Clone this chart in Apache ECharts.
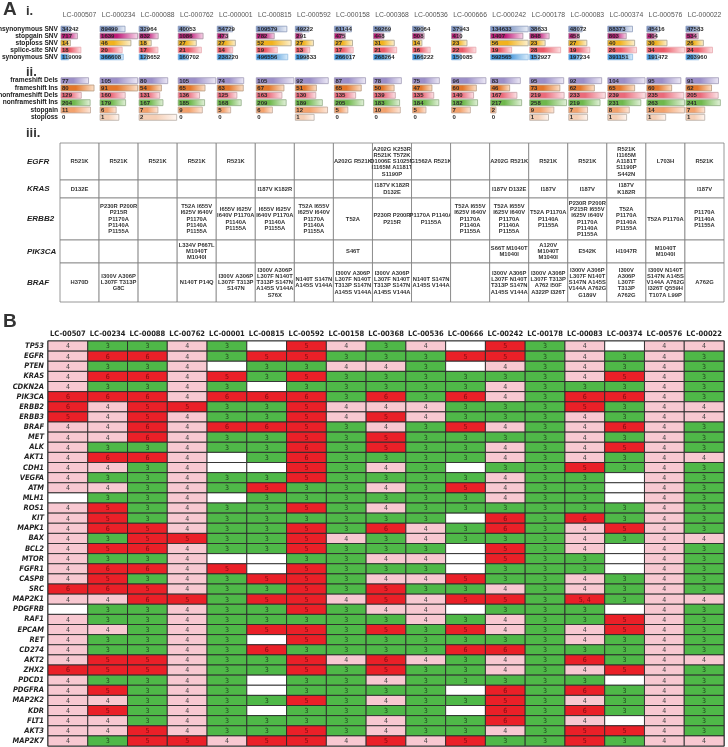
<!DOCTYPE html>
<html><head><meta charset="utf-8">
<script src="https://cdn.jsdelivr.net/npm/echarts@6/dist/echarts.min.js"></script>
<style>html,body{margin:0;padding:0;background:#fff}#c{width:728px;height:747px}</style>
</head><body><div id="c"></div><script>
// ---------- DATA ----------
const samplesA = ['LC-000507','LC-000234','LC-000088','LC-000762','LC-000001','LC-000815','LC-000592','LC-000158','LC-000368','LC-000536','LC-000666','LC-000242','LC-000178','LC-000083','LC-000374','LC-000576','LC-000022'];
const samplesB = ['LC-00507','LC-00234','LC-00088','LC-00762','LC-00001','LC-00815','LC-00592','LC-00158','LC-00368','LC-00536','LC-00666','LC-00242','LC-00178','LC-00083','LC-00374','LC-00576','LC-00022'];

// Panel A i. SNV counts
const snvRows = ['nonsynonymous SNV','stopgain SNV','stoploss SNV','splice-site SNV','synonymous SNV'];
const nonsynonymousSNV = [34242,89499,32964,40053,54729,109579,49222,61144,59269,39064,37943,134633,38633,48072,88373,45416,47583];
const stopgainSNV      = [717,1639,832,1086,473,782,291,475,448,508,410,1407,848,458,803,404,534];
const stoplossSNV      = [14,46,18,27,27,52,27,27,31,14,23,56,23,27,40,30,26];
const spliceSiteSNV    = [18,20,17,21,14,19,13,17,21,16,22,19,28,19,26,34,24];
const synonymousSNV    = [119009,366608,128652,160702,238220,496556,199833,266017,268264,166222,150085,592565,152927,197234,391151,191472,203960];

// Panel A ii. indel counts
const indelRows = ['frameshift Dels','frameshift Ins','nonframeshift Dels','nonframeshift Ins','stopgain','stoploss'];
const frameshiftDels    = [77,105,80,105,74,105,92,87,78,75,96,83,95,92,104,95,91];
const frameshiftIns     = [80,91,54,65,63,67,51,65,50,47,60,46,73,62,65,60,62];
const nonframeshiftDels = [129,160,131,136,125,163,130,135,139,135,140,167,219,233,239,235,205];
const nonframeshiftIns  = [204,179,167,185,168,209,189,205,183,184,182,217,258,219,231,263,241];
const stopgainIndel     = [11,6,7,9,5,6,12,5,10,5,7,2,9,7,8,14,7];
const stoplossIndel     = [0,1,2,0,0,0,1,0,0,0,0,0,1,1,1,1,1];

// Panel A iii. mutations table
const tableGenes = ['EGFR','KRAS','ERBB2','PIK3CA','BRAF'];
const mutEGFR = ['R521K','R521K','R521K','R521K','R521K','','','A202G R521K','A202G K253R\nR521K T572K\nD1006E S1025N\nI1165M A1181T\nS1190P','G1562A R521K','','A202G R521K','R521K','R521K','R521K\nI1165M\nA1181T\nS1190P\nS442N','L703H','R521K'];
const mutKRAS = ['D132E','','','','','I187V K182R','','','I187V K182R\nD132E','','','I187V D132E','I187V','I187V','I187V\nK182R','','I187V'];
const mutERBB2 = ['','P230R P200R\nP215R\nP1170A\nP1140A\nP1155A','','T52A I655V\nI625V I640V\nP1170A\nP1140A\nP1155A','I655V I625V\nI640V P1170A\nP1140A\nP1155A','I655V I625V\nI640V P1170A\nP1140A\nP1155A','T52A I655V\nI625V I640V\nP1170A\nP1140A\nP1155A','T52A','P230R P200R\nP215R','P1170A P1140A\nP1155A','T52A I655V\nI625V I640V\nP1170A\nP1140A\nP1155A','T52A I655V\nI625V I640V\nP1170A\nP1140A\nP1155A','T52A P1170A\nP1140A\nP1155A','P230R P200R\nP215R I655V\nI625V I640V\nP1170A\nP1140A\nP1155A','T52A\nP1170A\nP1140A\nP1155A','T52A P1170A','P1170A\nP1140A\nP1155A'];
const mutPIK3CA = ['','','','L334V P667L\nM1040T\nM1040I','','','','S46T','','','','S66T M1040T\nM1040I','A120V\nM1040T\nM1040I','E542K','H1047R','M1040T\nM1040I',''];
const mutBRAF = ['H370D','I300V A306P\nL307F T313P\nG8C','','N140T P14Q','I300V A306P\nL307F T313P\nS147N','I300V A306P\nL307F N140T\nT313P S147N\nA145S V144A\nS76X','N140T S147N\nA145S V144A','I300V A306P\nL307F N140T\nT313P S147N\nA145S V144A','I300V A306P\nL307F N140T\nT313P S147N\nA145S V144A','N140T S147N\nA145S V144A','','I300V A306P\nL307F N140T\nT313P S147N\nA145S V144A','I300V A306P\nL307F T313P\nA762 I50F\nA322P I326T','I300V A306P\nL307F N140T\nS147N A145S\nV144A A762G\nG189V','I300V\nA306P\nL307F\nT313P\nA762G','I300V N140T\nS147N A145S\nV144A A762G\nI326T Q559H\nT107A L99P','A762G'];

// Panel B heatmap (null = blank cell)
const genesB = ['TP53','EGFR','PTEN','KRAS','CDKN2A','PIK3CA','ERBB2','ERBB3','BRAF','MET','ALK','AKT1','CDH1','VEGFA','ATM','MLH1','ROS1','KIT','MAPK1','BAX','BCL2','MTOR','FGFR1','CASP8','SRC','MAP2K1','PDGFRB','RAF1','EPCAM','RET','CD274','AKT2','ZHX2','PDCD1','PDGFRA','MAP2K2','KDR','FLT1','AKT3','MAP2K7'];
const _ = null;
const scoresB = [
 [4,3,3,4,3,_,5,4,3,4,_,5,3,4,_,4,4],
 [4,6,6,4,3,5,5,3,3,3,5,5,3,4,3,4,3],
 [4,3,3,4,_,3,3,4,4,3,_,4,3,4,3,4,3],
 [4,6,6,4,5,3,5,3,3,3,3,3,3,4,5,4,3],
 [4,3,3,4,3,_,3,3,3,3,3,4,3,3,3,4,3],
 [6,6,6,4,6,6,6,3,6,3,6,4,3,6,6,4,3],
 [6,4,5,5,3,3,5,4,4,4,3,3,3,5,3,4,4],
 [5,4,5,4,3,3,5,4,5,4,3,3,3,4,3,4,4],
 [4,4,6,4,6,6,5,3,4,3,5,4,3,4,6,4,3],
 [4,4,6,4,3,3,5,3,5,3,3,3,3,4,3,4,3],
 [4,3,3,4,3,3,6,3,5,3,3,4,3,4,5,4,3],
 [4,6,6,4,_,3,6,3,3,3,3,4,3,4,3,4,4],
 [4,4,3,4,_,_,5,3,4,3,_,3,3,5,3,4,3],
 [4,3,3,4,3,3,5,3,3,3,3,4,3,3,_,4,3],
 [4,4,3,4,3,5,3,3,4,3,5,4,3,3,_,4,3],
 [_,3,3,4,_,3,3,3,3,3,3,4,3,3,_,4,3],
 [4,5,3,4,3,3,5,3,4,3,3,3,3,3,3,4,3],
 [4,5,3,4,3,3,3,3,3,3,_,6,3,6,3,4,3],
 [4,6,5,4,3,3,5,3,6,4,3,6,3,4,5,4,3],
 [4,3,5,5,3,3,5,4,3,4,3,3,3,4,3,4,4],
 [4,5,6,4,3,3,5,3,3,3,_,5,3,4,_,4,3],
 [4,3,3,4,_,_,3,3,4,4,_,5,3,3,_,4,3],
 [4,6,6,4,5,_,5,3,3,3,_,3,3,3,_,4,3],
 [4,5,3,4,3,5,5,3,4,4,5,3,3,4,3,4,3],
 [6,6,5,4,3,3,5,3,5,3,3,4,3,4,3,4,3],
 [4,4,6,5,3,5,5,4,5,4,5,5,3,'5, 4',3,4,4],
 [_,3,3,4,3,3,5,3,4,4,_,3,3,3,_,4,3],
 [4,3,3,4,3,3,3,3,3,4,3,4,3,3,5,4,3],
 [4,4,3,4,3,5,5,3,5,3,5,4,3,4,5,4,3],
 [4,3,3,4,3,_,5,3,3,3,3,3,3,4,3,4,3],
 [4,3,3,4,3,6,3,3,3,3,6,6,3,3,3,4,3],
 [4,5,5,4,3,3,5,4,6,4,3,4,3,6,3,4,4],
 [6,5,5,4,3,3,5,3,5,3,3,4,3,4,5,4,3],
 [4,3,3,4,3,_,3,3,4,3,3,3,3,3,_,4,3],
 [4,5,3,4,3,_,3,3,3,3,_,6,3,6,3,4,3],
 [4,4,3,4,3,3,5,3,4,3,3,5,3,4,3,4,3],
 [4,5,3,4,3,_,3,3,3,3,_,6,3,6,3,4,3],
 [4,4,3,4,3,3,3,3,4,3,3,6,3,4,_,4,3],
 [4,4,5,4,3,3,5,3,4,3,3,4,3,5,5,4,3],
 [4,3,5,5,4,5,5,4,5,4,5,3,3,5,3,4,4]
];

// ---------- STYLES ----------
const snvColors = [
  ['#7c93c2','#eef2f9','#8b9bbb'],
  ['#bd1a78','#f8d9eb','#a68ea0'],
  ['#f1b21d','#fdf2d3','#a7a08c'],
  ['#ec5a66','#fde6e8','#e7a7ad'],
  ['#3a8fd7','#ddeefb','#8fbbe2']
];
const indelColors = [
  ['#9c8fc8','#eeebf7','#a29cb8'],
  ['#e4772a','#fbe2cc','#b79a80'],
  ['#ea6a7a','#fde5e9','#c8a0a6'],
  ['#6fb84c','#e4f2dc','#92ad86'],
  ['#f3a26d','#fde9dc','#c0a798'],
  ['#f5cfb6','#fff7f2','#b8ada6']
];
const NARROW = "'Liberation Sans Narrow','DejaVu Sans Condensed','Liberation Sans',sans-serif";
const SANS = "'Liberation Sans',Arial,sans-serif";

function barSeries(idx, rows, colors){
  const data = [];
  rows.forEach((arr, r) => arr.forEach((v, c) => data.push([c, r, v])));
  const maxes = rows.map(a => Math.max(...a));
  return {
    type:'custom', xAxisIndex:idx, yAxisIndex:idx, data, encode:{x:0, y:1}, silent:true,
    renderItem(params, api){
      const c = api.value(0), r = api.value(1), v = api.value(2);
      const p = api.coord([c, r]); const s = api.size([1, 1]);
      const x0 = p[0] - s[0]/2 + 1; const full = s[0] - 1.5;
      const len = maxes[r] ? v / maxes[r] * full : 0;
      const h = s[1] - 1.4; const y0 = p[1] - h/2;
      const col = colors[r]; const ch = [];
      if (len > 0) ch.push({type:'rect', shape:{x:x0, y:y0, width:len, height:h},
        style:{fill:new echarts.graphic.LinearGradient(0,0,1,0,[{offset:0,color:col[0]},{offset:0.45,color:col[0]},{offset:1,color:col[1]}]), stroke:col[2], lineWidth:0.8}});
      ch.push({type:'text', style:{text:String(v), x:x0 + 1, y:p[1] + 0.3, align:'left', verticalAlign:'middle',
        font:'bold 6px ' + SANS, fill:'#2a2a2a'}});
      return {type:'group', children:ch};
    }
  };
}

function tableSeries(idx, row){
  return {
    type:'custom', xAxisIndex:idx, yAxisIndex:idx, silent:true,
    data: row.map((t, c) => [c, 0]), encode:{x:0, y:1},
    renderItem(params, api){
      const c = api.value(0); const p = api.coord([c, 0]); const s = api.size([1, 1]);
      return {type:'group', children:[
        {type:'rect', shape:{x:p[0]-s[0]/2, y:p[1]-s[1]/2, width:s[0], height:s[1]}, style:{fill:'#fff', stroke:'#7f7f7f', lineWidth:0.8}},
        {type:'text', style:{text:row[c], x:p[0], y:p[1], align:'center', verticalAlign:'middle',
          font:'bold 5.8px ' + SANS, lineHeight:6.3, fill:'#333'}}
      ]};
    }
  };
}

const heatColors = {3:'#4fb848', 4:'#f8c8d1', 5:'#ea2028', 6:'#ea2028'};
const heatText = {3:'#1d3d1b', 4:'#444', 5:'#7c0c10', 6:'#7c0c10'};
function heatSeries(idx){
  const data = [];
  scoresB.forEach((row, r) => row.forEach((v, c) => data.push([c, r])));
  const labels = []; scoresB.forEach(row => row.forEach(v => labels.push(v)));
  return {
    type:'custom', xAxisIndex:idx, yAxisIndex:idx, silent:true, data, encode:{x:0, y:1},
    renderItem(params, api){
      const c = api.value(0), r = api.value(1); const v = labels[params.dataIndex];
      const key = v == null ? null : parseInt(String(v), 10);
      const p = api.coord([c, r]); const s = api.size([1, 1]);
      const ch = [{type:'rect', shape:{x:p[0]-s[0]/2, y:p[1]-s[1]/2, width:s[0], height:s[1]},
        style:{fill: key == null ? '#fff' : heatColors[key], stroke:'#2b2b2b', lineWidth:0.9}}];
      if (key != null) ch.push({type:'text', style:{text:String(v), x:p[0], y:p[1]+0.5, align:'center', verticalAlign:'middle',
        font:'7px ' + NARROW, fill:heatText[key]}});
      return {type:'group', children:ch};
    }
  };
}

// ---------- LAYOUT ----------
const grids = [], xAxes = [], yAxes = [], series = [];
function hidden(){ return {show:false}; }
// 0: panel i
grids.push({left:60, right:4, top:25.5, height:35, outerBoundsMode:'none'});
xAxes.push({type:'category', gridIndex:0, data:samplesA, position:'top', axisLine:hidden(), axisTick:hidden(), splitLine:hidden(),
  axisLabel:{interval:0, fontSize:6.8, color:'#555', margin:7, fontFamily:SANS}});
yAxes.push({type:'category', gridIndex:0, data:snvRows, inverse:true, axisLine:hidden(), axisTick:hidden(),
  axisLabel:{interval:0, fontSize:6.6, fontWeight:'bold', color:'#222', margin:2, fontFamily:SANS}});
series.push(barSeries(0, [nonsynonymousSNV, stopgainSNV, stoplossSNV, spliceSiteSNV, synonymousSNV], snvColors));
// 1: panel ii
grids.push({left:60, right:4, top:77, height:44, outerBoundsMode:'none'});
xAxes.push({type:'category', gridIndex:1, data:samplesA, show:false});
yAxes.push({type:'category', gridIndex:1, data:indelRows, inverse:true, axisLine:hidden(), axisTick:hidden(),
  axisLabel:{interval:0, fontSize:6.6, fontWeight:'bold', color:'#222', margin:2, fontFamily:SANS}});
series.push(barSeries(1, [frameshiftDels, frameshiftIns, nonframeshiftDels, nonframeshiftIns, stopgainIndel, stoplossIndel], indelColors));
// 2-6: table rows
const tableRows = [mutEGFR, mutKRAS, mutERBB2, mutPIK3CA, mutBRAF];
const rowTops = [143, 180, 198, 240, 263];
const rowHeights = [37, 18, 42, 23, 39];
tableRows.forEach((row, i) => {
  const gi = 2 + i;
  grids.push({left:60, right:4, top:rowTops[i], height:rowHeights[i], outerBoundsMode:'none'});
  xAxes.push({type:'category', gridIndex:gi, data:samplesA, show:false});
  yAxes.push({type:'category', gridIndex:gi, data:[tableGenes[i]], axisLine:hidden(), axisTick:hidden(),
    axisLabel:{fontSize:8, fontWeight:'bold', fontStyle:'italic', color:'#222', margin:33, align:'left', fontFamily:SANS}});
  series.push(tableSeries(gi, row));
});
// 7: panel B heatmap
grids.push({left:48, right:4, top:341, height:405, outerBoundsMode:'none', show:true, borderColor:'#222', borderWidth:1.2, backgroundColor:'transparent'});
xAxes.push({type:'category', gridIndex:7, data:samplesB, position:'top', axisLine:hidden(), axisTick:hidden(), splitLine:hidden(),
  axisLabel:{interval:0, fontSize:7.5, fontWeight:'bold', color:'#222', margin:3, fontFamily:NARROW}});
yAxes.push({type:'category', gridIndex:7, data:genesB, inverse:true, axisLine:hidden(), axisTick:hidden(), splitLine:hidden(),
  axisLabel:{interval:0, fontSize:7.5, fontWeight:'bold', fontStyle:'italic', color:'#222', margin:4, fontFamily:NARROW}});
series.push(heatSeries(7));

const chart = echarts.init(document.getElementById('c'), null, {renderer:'canvas'});
chart.setOption({
  animation:false,
  backgroundColor:'#fff',
  grid:grids, xAxis:xAxes, yAxis:yAxes, series,
  graphic:[
    {type:'text', left:3, top:0, style:{text:'A', font:'bold 19px ' + SANS, fill:'#333'}},
    {type:'text', left:26, top:5, style:{text:'i.', font:'bold 13px ' + SANS, fill:'#333'}},
    {type:'text', left:26, top:66, style:{text:'ii.', font:'bold 13px ' + SANS, fill:'#333'}},
    {type:'text', left:26, top:127, style:{text:'iii.', font:'bold 13px ' + SANS, fill:'#333'}},
    {type:'text', left:3, top:312, style:{text:'B', font:'bold 19px ' + SANS, fill:'#333'}}
  ]
});
</script></body></html>
